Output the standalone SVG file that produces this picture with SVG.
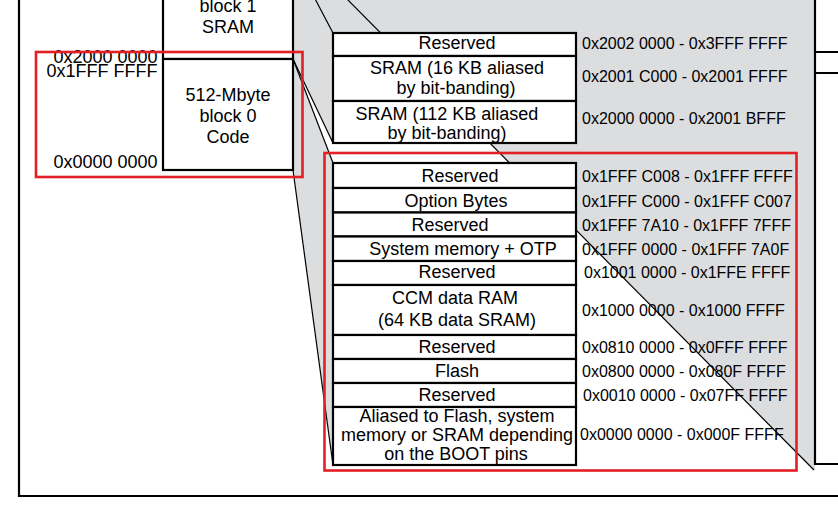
<svg xmlns="http://www.w3.org/2000/svg" width="838" height="518" viewBox="0 0 838 518">
<style>
.bg{fill:#ffffff}
.gray{fill:#dcdddf;stroke:none}
.frame{fill:none;stroke:#000;stroke-width:2.2}
.cell{fill:#ffffff;stroke:#000;stroke-width:2.2}
.conn{fill:none;stroke:#000;stroke-width:1.2}
.hl{fill:none;stroke:#e31e24;stroke-width:2.6}
.lbl{font-family:"Liberation Sans",Arial,sans-serif;font-size:18px;fill:#000;text-anchor:middle}
.addr{font-family:"Liberation Sans",Arial,sans-serif;font-size:16px;fill:#000}
.left{font-family:"Liberation Sans",Arial,sans-serif;font-size:18px;fill:#000;text-anchor:end}
</style>
<rect class="bg" x="0" y="0" width="838" height="518"/>

<g id="projections">
<path class="gray" d="M343,-5 L815,-5 L815,471 L814,470 Z"/>
<path class="gray" d="M293,-5 L343,-5 L489.8,143 L333,143 L293,59 Z"/>
<path class="gray" d="M293,59 L333,163 L333,465 L293,170 Z"/>
</g>

<g id="outer-frame">
<path class="frame" d="M19,-5 L19,496 L843,496"/>
</g>

<g id="right-column">
<path class="frame" d="M815,-5 L815,464 L843,464 M815,52 L843,52 M815,73 L843,73"/>
</g>

<g id="connectors">
<line class="conn" x1="293" y1="-43" x2="333" y2="33"/>
<line class="conn" x1="293" y1="59" x2="333" y2="143"/>
<line class="conn" x1="293" y1="59" x2="333" y2="163"/>
<line class="conn" x1="293" y1="170" x2="333" y2="465"/>
<line class="conn" x1="343" y1="-5" x2="814" y2="470"/>
</g>

<g id="block1">
<rect class="cell" x="163" y="-60" width="130" height="119"/>
<text class="lbl" x="228" y="12">block 1</text>
<text class="lbl" x="228" y="33">SRAM</text>
</g>
<g id="block0">
<rect class="cell" x="163" y="59" width="130" height="111"/>
<text class="lbl" x="228" y="101">512-Mbyte</text>
<text class="lbl" x="228" y="122">block 0</text>
<text class="lbl" x="228" y="143">Code</text>
</g>
<g id="block-addresses">
<text class="left" x="157.5" y="63">0x2000 0000</text>
<text class="left" x="157.5" y="77">0x1FFF FFFF</text>
<text class="left" x="157.5" y="168">0x0000 0000</text>
</g>

<g id="sram-reserved">
<rect class="cell" x="333" y="33" width="243" height="23"/>
<text class="lbl" x="457" y="49">Reserved</text>
<text class="addr" x="582" y="49">0x2002 0000 - 0x3FFF FFFF</text>
</g>
<g id="sram-16kb">
<rect class="cell" x="333" y="56" width="243" height="45"/>
<text class="lbl" x="457" y="74">SRAM (16 KB aliased</text>
<text class="lbl" x="456" y="94">by bit-banding)</text>
<text class="addr" x="582" y="82">0x2001 C000 - 0x2001 FFFF</text>
</g>
<g id="sram-112kb">
<rect class="cell" x="333" y="101" width="243" height="42"/>
<text class="lbl" x="447" y="120">SRAM (112 KB aliased</text>
<text class="lbl" x="447" y="139">by bit-banding)</text>
<text class="addr" x="582" y="124">0x2000 0000 - 0x2001 BFFF</text>
</g>

<g id="code-reserved-1">
<rect class="cell" x="333" y="163" width="243" height="25"/>
<text class="lbl" x="460" y="182">Reserved</text>
<text class="addr" x="582" y="182">0x1FFF C008 - 0x1FFF FFFF</text>
</g>
<g id="option-bytes">
<rect class="cell" x="333" y="188" width="243" height="24.5"/>
<text class="lbl" x="456" y="206.5">Option Bytes</text>
<text class="addr" x="582" y="206.5">0x1FFF C000 - 0x1FFF C007</text>
</g>
<g id="code-reserved-2">
<rect class="cell" x="333" y="212.5" width="243" height="24"/>
<text class="lbl" x="450" y="230.5">Reserved</text>
<text class="addr" x="582" y="230.5">0x1FFF 7A10 - 0x1FFF 7FFF</text>
</g>
<g id="system-memory">
<rect class="cell" x="333" y="236.5" width="243" height="24.5"/>
<text class="lbl" x="463" y="254.5">System memory + OTP</text>
<text class="addr" x="582" y="254.5">0x1FFF 0000 - 0x1FFF 7A0F</text>
</g>
<g id="code-reserved-3">
<rect class="cell" x="333" y="261" width="243" height="24"/>
<text class="lbl" x="457" y="278">Reserved</text>
<text class="addr" x="584" y="278">0x1001 0000 - 0x1FFE FFFF</text>
</g>
<g id="ccm-ram">
<rect class="cell" x="333" y="285" width="243" height="50"/>
<text class="lbl" x="455" y="304">CCM data RAM</text>
<text class="lbl" x="457" y="326">(64 KB data SRAM)</text>
<text class="addr" x="582" y="316">0x1000 0000 - 0x1000 FFFF</text>
</g>
<g id="code-reserved-4">
<rect class="cell" x="333" y="335" width="243" height="24"/>
<text class="lbl" x="457" y="353">Reserved</text>
<text class="addr" x="582" y="353">0x0810 0000 - 0x0FFF FFFF</text>
</g>
<g id="flash">
<rect class="cell" x="333" y="359" width="243" height="24"/>
<text class="lbl" x="457" y="377">Flash</text>
<text class="addr" x="582" y="377">0x0800 0000 - 0x080F FFFF</text>
</g>
<g id="code-reserved-5">
<rect class="cell" x="333" y="383" width="243" height="24"/>
<text class="lbl" x="457" y="401">Reserved</text>
<text class="addr" x="583" y="401">0x0010 0000 - 0x07FF FFFF</text>
</g>
<g id="aliased">
<rect class="cell" x="333" y="407" width="243" height="58"/>
<text class="lbl" x="457" y="422">Aliased to Flash, system</text>
<text class="lbl" x="457" y="441">memory or SRAM depending</text>
<text class="lbl" x="456" y="460">on the BOOT pins</text>
<text class="addr" x="580" y="440">0x0000 0000 - 0x000F FFFF</text>
</g>

<g id="highlights">
<rect class="hl" x="36" y="52" width="266.5" height="125"/>
<rect class="hl" x="324.5" y="153" width="472" height="317.5"/>
</g>
</svg>
